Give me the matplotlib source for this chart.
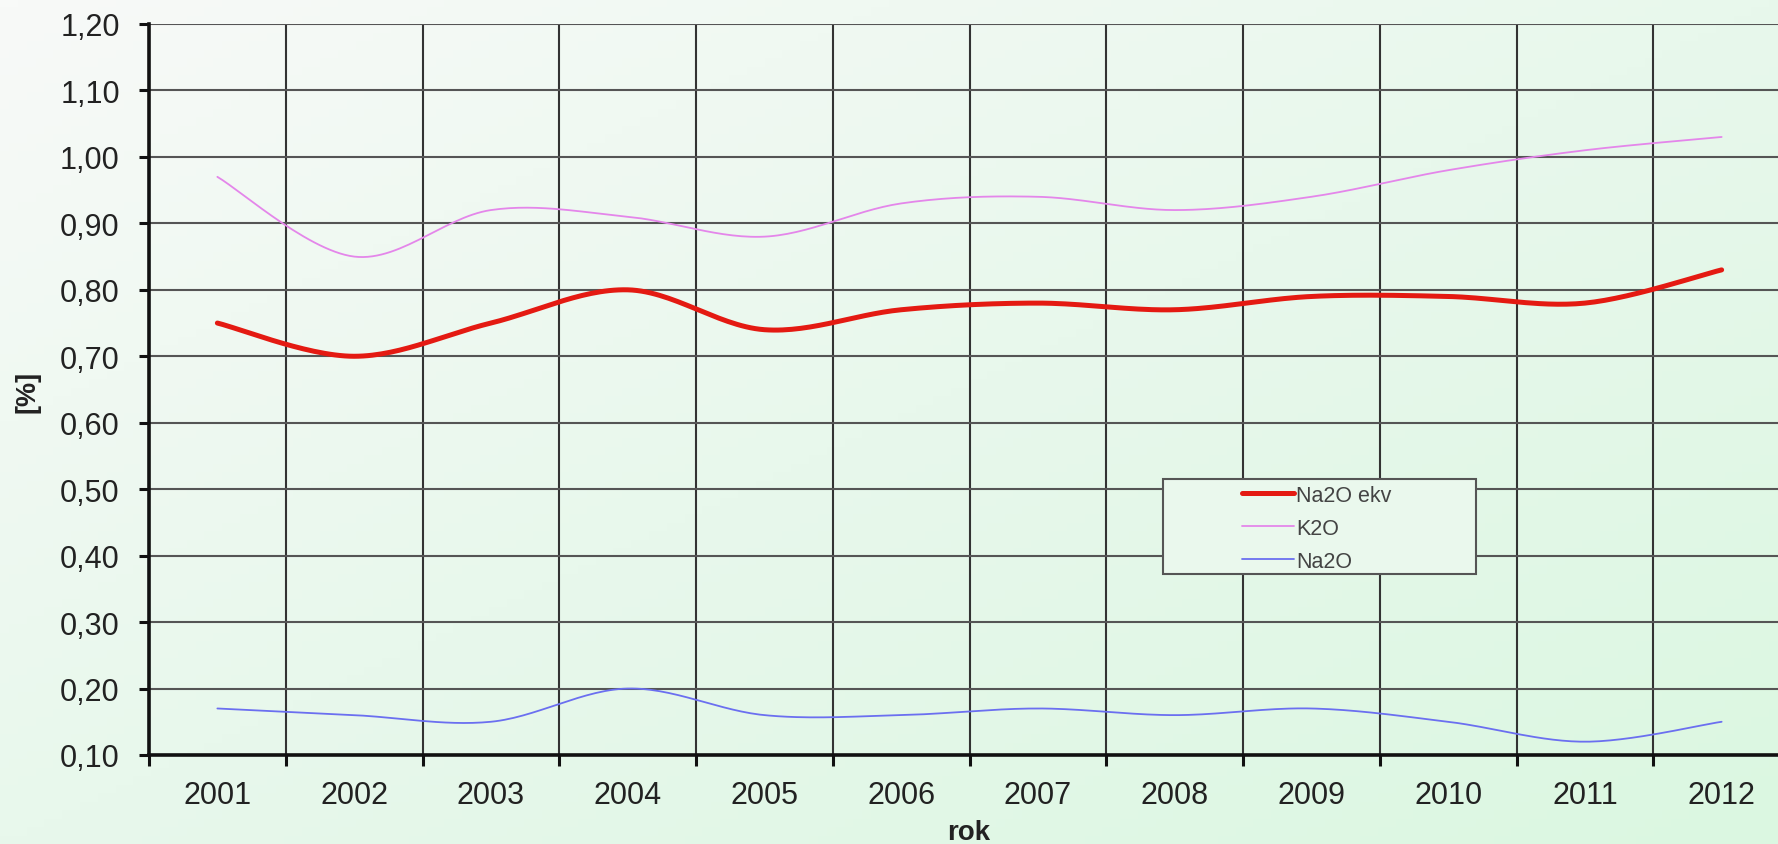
import numpy as np
import matplotlib
matplotlib.use("Agg")
import matplotlib.pyplot as plt
from matplotlib.colors import LinearSegmentedColormap
from matplotlib.patches import Rectangle

# --- data -------------------------------------------------------------
years = ["2001", "2002", "2003", "2004", "2005", "2006",
         "2007", "2008", "2009", "2010", "2011", "2012"]
na2o_ekv = [0.75, 0.70, 0.75, 0.80, 0.74, 0.77, 0.78, 0.77, 0.79, 0.79, 0.78, 0.83]
k2o = [0.97, 0.85, 0.92, 0.91, 0.88, 0.93, 0.94, 0.92, 0.94, 0.98, 1.01, 1.03]
na2o = [0.17, 0.16, 0.15, 0.20, 0.16, 0.16, 0.17, 0.16, 0.17, 0.15, 0.12, 0.15]
y_ticks = [0.10, 0.20, 0.30, 0.40, 0.50, 0.60, 0.70, 0.80, 0.90, 1.00, 1.10, 1.20]

plt.rcParams["font.family"] = ["Liberation Sans", "DejaVu Sans"]


def smooth_curve(x, y, steps=30):
    """Catmull-Rom spline through the points (spreadsheet-style smoothed line)."""
    pts = np.column_stack([np.asarray(x, float), np.asarray(y, float)])
    out = []
    n = len(pts)
    for i in range(n - 1):
        p0 = pts[i - 1] if i > 0 else pts[i]
        p1 = pts[i]
        p2 = pts[i + 1]
        p3 = pts[i + 2] if i + 2 < n else pts[i + 1]
        t = np.linspace(0, 1, steps, endpoint=(i == n - 2))[:, None]
        seg = 0.5 * ((2 * p1) + (-p0 + p2) * t
                     + (2 * p0 - 5 * p1 + 4 * p2 - p3) * t ** 2
                     + (-p0 + 3 * p1 - 3 * p2 + p3) * t ** 3)
        out.append(seg)
    out = np.vstack(out)
    return out[:, 0], out[:, 1]


W, H = 1778, 845
fig = plt.figure(figsize=(W / 100, H / 100), dpi=100)


def fx(px):
    return px / W


def fy(py):
    return 1 - py / H


# soft green gradient behind everything
bg = fig.add_axes([0, 0, 1, 1], zorder=-10)
gx, gy = np.meshgrid(np.linspace(0, 1, 200), np.linspace(0, 1, 100))
grad = np.clip(0.5 * gx + 0.5 * gy, 0, 1)
cmap = LinearSegmentedColormap.from_list("bg", ["#f8faf8", "#e8f8ec", "#dbf7e1"])
bg.imshow(grad, cmap=cmap, aspect="auto", extent=[0, 1, 0, 1], origin="upper")
bg.axis("off")

left_px, right_px, top_px, bottom_px = 149, 1790, 25, 756
ax = fig.add_axes([fx(left_px), fy(bottom_px), (right_px - left_px) / W, (bottom_px - top_px) / H])
ax.patch.set_alpha(0)

xpos = np.arange(len(years))
series = [
    (na2o_ekv, "Na2O ekv", "#e41a12", 3.6),
    (k2o, "K2O", "#e486ea", 1.3),
    (na2o, "Na2O", "#6b6ff0", 1.3),
]
for vals, label, color, lw in series:
    sx, sy = smooth_curve(xpos, vals)
    ax.plot(sx, sy, color=color, lw=lw, label=label, solid_capstyle="round", zorder=3)

ax.set_xlim(-0.5, len(years) - 0.5)
ax.set_ylim(0.10, 1.20)

ax.set_yticks(y_ticks)
ax.set_yticklabels([f"{v:.2f}".replace(".", ",") for v in y_ticks])
ax.set_xticks(xpos)
ax.set_xticklabels(years)
ax.set_xticks(np.arange(len(years) + 1) - 0.5, minor=True)

ax.tick_params(axis="x", which="major", length=0, labelsize=22, pad=18, colors="#222222")
ax.tick_params(axis="x", which="minor", length=8, width=2.2, color="#111111", direction="out")
ax.tick_params(axis="y", which="major", length=7, width=2.2, color="#111111",
               labelsize=22, pad=14, labelcolor="#222222")

ax.grid(True, axis="y", which="major", color="#555555", lw=1.5, zorder=1)
ax.grid(True, axis="x", which="minor", color="#333333", lw=1.5, zorder=1)
ax.grid(False, axis="x", which="major")

for side in ("top", "right"):
    ax.spines[side].set_visible(False)
for side in ("left", "bottom"):
    ax.spines[side].set_color("#111111")
    ax.spines[side].set_linewidth(2.6)
    ax.spines[side].set_zorder(4)

fig.text(fx(28), fy(392), "[%]", rotation=90, ha="center", va="center",
         fontsize=19.5, fontweight="bold", color="#222222")
fig.text(fx(969), fy(833), "rok", ha="center", va="center",
         fontsize=20, fontweight="bold", color="#222222")

# legend box, drawn in the axes so the legend entries sit on top of it
box = Rectangle((fx(1163), fy(575)), (1476 - 1163) / W, (575 - 480) / H,
                transform=fig.transFigure, facecolor="#eaf8ed", edgecolor="#555555",
                lw=1.5, zorder=5, clip_on=False)
ax.add_patch(box)

leg = ax.legend(loc="upper left", bbox_to_anchor=(fx(1242), fy(486)),
                bbox_transform=fig.transFigure, frameon=False, fontsize=15.5,
                handlelength=2.4, handletextpad=0.1, borderpad=0,
                labelspacing=0.55, borderaxespad=0)
leg.set_zorder(6)
for txt in leg.get_texts():
    txt.set_color("#444444")

fig.savefig("out.png", dpi=100)
